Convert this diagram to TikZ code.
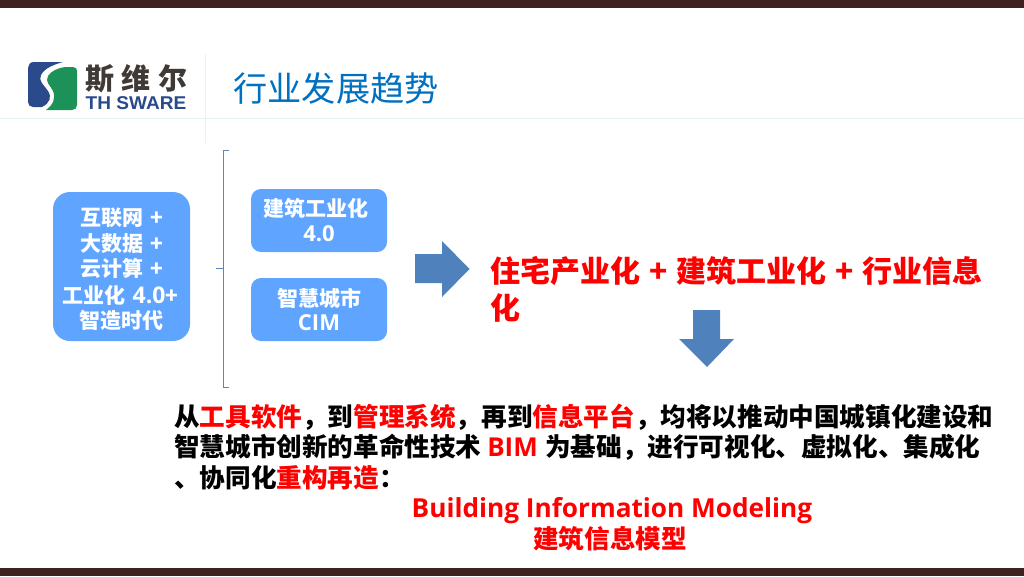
\documentclass[tikz,border=0pt]{standalone}
\usepackage{fontspec}
\setmainfont{Open Sans}
\newfontfamily\cjk{Noto Sans CJK SC}
\newfontfamily\lat{Open Sans}
\newfontfamily\arialf{Liberation Sans}
\definecolor{barbrown}{HTML}{3E2220}
\definecolor{rulemint}{HTML}{E3F7F2}
\definecolor{titleblue}{HTML}{0070C0}
\definecolor{boxblue}{HTML}{5FA5FF}
\definecolor{arrowblue}{HTML}{4F81BD}
\definecolor{logoblue}{HTML}{2A4A8C}
\definecolor{logogreen}{HTML}{1C9158}
\definecolor{logogray}{HTML}{3F3A36}
\definecolor{brace}{HTML}{5B86BE}
\newcommand{\rd}[1]{\textcolor{red}{#1}}
\newcommand{\fs}[1]{\fontsize{#1}{#1}\selectfont}
\tikzset{
  bluebox/.style={fill=boxblue,rounded corners=#1,draw=none},
  boxtext/.style={text=white,align=center,font=\cjk\bfseries\fs{21},inner sep=0pt},
  bodytext/.style={text=black,anchor=west,inner sep=0pt,font=\cjk\bfseries\fs{25.6}},
  headtext/.style={anchor=west,inner sep=0pt,text=red,font=\cjk\bfseries\fs{30}},
  blockarrow/.style={fill=arrowblue,draw=none},
}
\begin{document}
\begin{tikzpicture}[x=1pt,y=-1pt]
\useasboundingbox (0,0) rectangle (1024,576);
\fill[white] (0,0) rectangle (1024,576);
\fill[barbrown] (0,0) rectangle (1024,8);
\fill[barbrown] (0,568) rectangle (1024,576);
\draw[rulemint,line width=1.5pt] (0,118.5) -- (1024,118.5);
\draw[rulemint,line width=1pt] (205.5,54) -- (205.5,143);
% logo
\fill[logoblue] (28,68) -- (28,102) .. controls (28,105) and (30,107) .. (33,107)
  -- (42,107) .. controls (50,103) and (52,97) .. (48,91)
  .. controls (44,85) and (38,81) .. (41,75) .. controls (44,69) and (52,65) .. (63,62)
  -- (34,62) .. controls (30,62) and (28,65) .. (28,68) -- cycle;
\fill[logogreen] (77,71) -- (77,105) .. controls (77,108) and (75,110) .. (72,110)
  -- (46,110) .. controls (53,105) and (56,98) .. (53,91)
  .. controls (50,85) and (45,82) .. (48,76) .. controls (51,71) and (58,68) .. (65,67)
  -- (73,67) .. controls (76,67) and (77,69) .. (77,71) -- cycle;
\node[inner sep=0pt,text=logogray,font=\cjk\bfseries\fs{29}] (logocn) at (136.5,79) {斯\hspace{7.5pt}维\hspace{7.5pt}尔};
\node[inner sep=0pt,text=logoblue,font=\arialf\bfseries\fs{18.5},xscale=1.03] (logoen) at (136,103.5) {TH SWARE};
\node[inner sep=0pt,text=titleblue,font=\cjk\fs{34.2}] (title) at (336,88) {行业发展趋势};
% left box
\fill[bluebox=17pt] (53,192) rectangle (190,341);
\node[boxtext,text width=137pt] (a1) at (121.5,218) {互联网 +};
\node[boxtext,text width=137pt] (a2) at (121.5,243.5) {大数据 +};
\node[boxtext,text width=137pt] (a3) at (121.5,269) {云计算 +};
\node[boxtext,text width=137pt] (a4) at (120.5,295) {工业化 {\lat\fs{23}4.0}+};
\node[boxtext,text width=137pt] (a5) at (121.5,320) {智造时代};
% brace
\draw[brace,line width=1pt] (229,150) -- (223,150) -- (223,387) -- (229,387);
\draw[brace,line width=1pt] (216,268.5) -- (223,268.5);
% right boxes
\fill[bluebox=10pt] (251,189) rectangle (387,252);
\node[boxtext] (b1) at (316,208) {建筑工业化};
\node[boxtext,font=\lat\bfseries\fs{22}] (b2) at (319,234) {4.0};
\fill[bluebox=10pt] (251,278) rectangle (387,341);
\node[boxtext] (c1) at (319,298) {智慧城市};
\node[boxtext,font=\lat\bfseries\fs{22}] (c2) at (319,323) {CIM};
% arrows
\fill[blockarrow] (415,254) -- (442,254) -- (442,241) -- (469.5,269) -- (442,297) -- (442,283) -- (415,283) -- cycle;
\fill[blockarrow] (693,310) -- (720,310) -- (720,339) -- (734,339) -- (707,367) -- (679,339) -- (693,339) -- cycle;
% headline
\node[headtext] (h1) at (490.5,271) {住宅产业化\hspace{2pt} + \hspace{2pt}建筑工业化\hspace{2pt} + \hspace{2pt}行业信息};
\node[headtext] (h2) at (490.5,308) {化};
% body
\node[bodytext] (l1) at (174,417) {从\rd{工具软件}，到\rd{管理系统}，再到\rd{信息平台}，均将以推动中国城镇化建设和};
\node[bodytext] (l2) at (174,447) {智慧城市创新的革命性技术 \rd{\lat\fs{26}BIM}\hspace{1.5pt} 为基础，进行可视化、虚拟化、集成化};
\node[bodytext] (l3) at (174,477.5) {、协同化\rd{重构再造}：};
\node[inner sep=0pt,text=red,font=\lat\bfseries\fs{26.2}] (m1) at (612,510.5) {Building Information Modeling};
\node[inner sep=0pt,text=red,font=\cjk\bfseries\fs{25.6}] (m2) at (610,539) {建筑信息模型};
\end{tikzpicture}
\end{document}
